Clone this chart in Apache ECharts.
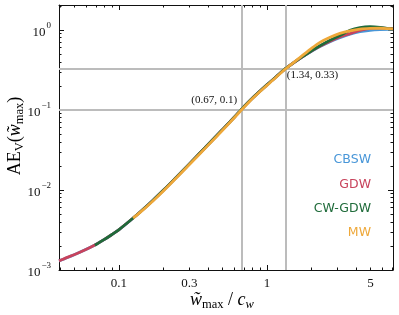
<!DOCTYPE html>
<html><head><meta charset="utf-8">
<script src="https://cdn.jsdelivr.net/npm/echarts@6/dist/echarts.min.js"></script>
<style>html,body{margin:0;padding:0;background:#fff}#c{width:399px;height:315px}</style>
</head><body><div id="c"></div>
<script>
// ---- data ----
const xTickLabels = [0.1, 0.3, 1, 5];
const yTickLabels = [0.001, 0.01, 0.1, 1];
const refX = [0.67, 1.34];
const refY = [0.1, 0.33];
const xRange = [0.0395, 7.1];
const yRange = [0.001, 2.05];
const seriesNames = ['CBSW', 'GDW', 'CW-GDW', 'MW'];
const seriesColors = ['#4896d8', '#c8435c', '#1f6b3a', '#eea83a'];

const cbsw = [[0.0395,0.00130],[0.05,0.00155],[0.07,0.00208],[0.10,0.00318],[0.14,0.00535],[0.20,0.0099],[0.30,0.0212],[0.40,0.0368],[0.50,0.0565],[0.60,0.0805],[0.67,0.101],[0.80,0.141],[1.00,0.206],[1.15,0.258],[1.34,0.330],[1.67,0.440],[2.0,0.540],[2.28,0.620],[2.67,0.715],[3.11,0.800],[3.64,0.884],[4.25,0.952],[4.97,0.990],[5.8,1.010],[6.78,1.020],[7.1,1.020]];
const gdw = [[0.0395,0.00130],[0.045,0.00144],[0.05,0.00155],[0.06,0.00180],[0.07,0.00208],[0.08,0.00241],[0.09,0.00278],[0.10,0.00318],[0.12,0.00418],[0.14,0.00535],[0.17,0.0074],[0.20,0.0099],[0.25,0.0150],[0.30,0.0212],[0.40,0.0368],[0.50,0.0565],[0.60,0.0805],[0.67,0.101],[0.80,0.141],[1.00,0.206],[1.15,0.258],[1.34,0.330],[1.67,0.440],[2.0,0.545],[2.28,0.625],[2.67,0.725],[3.11,0.820],[3.64,0.900],[4.25,0.990],[4.97,1.050],[5.8,1.060],[6.78,1.040],[7.1,1.035]];
const cwgdw = [[0.069,0.00204],[0.08,0.00241],[0.09,0.00278],[0.10,0.00318],[0.12,0.00418],[0.14,0.00535],[0.17,0.0074],[0.20,0.0099],[0.25,0.0150],[0.30,0.0212],[0.40,0.0368],[0.50,0.0565],[0.60,0.0805],[0.67,0.101],[0.80,0.141],[1.00,0.206],[1.15,0.258],[1.34,0.330],[1.67,0.442],[2.0,0.548],[2.28,0.635],[2.67,0.745],[3.11,0.850],[3.64,0.990],[4.25,1.070],[4.97,1.100],[5.8,1.080],[6.78,1.035],[7.1,1.030]];
const mw = [[0.125,0.00444],[0.14,0.00528],[0.17,0.0073],[0.20,0.0097],[0.25,0.0147],[0.30,0.0208],[0.40,0.0361],[0.50,0.0555],[0.60,0.0792],[0.67,0.0990],[0.80,0.139],[1.00,0.203],[1.15,0.255],[1.34,0.327],[1.67,0.451],[2.0,0.589],[2.28,0.700],[2.67,0.810],[3.11,0.905],[3.64,0.975],[4.25,1.025],[4.97,1.045],[5.8,1.050],[6.78,1.035],[7.1,1.030]];
const seriesData = [cbsw, gdw, cwgdw, mw];

// ---- helpers ----
const L = Math.log10;
function minorTicks(lo, hi) {
  const out = [];
  for (let k = -4; k <= 2; k++) for (let m = 2; m <= 9; m++) {
    const v = m * Math.pow(10, k);
    if (v >= lo && v <= hi) out.push(L(v));
  }
  return out;
}
function majorTicks(lo, hi) {
  const out = [];
  for (let k = -4; k <= 2; k++) { const v = Math.pow(10, k); if (v >= lo && v <= hi) out.push(k); }
  return out;
}
const serif = '"Liberation Serif", "DejaVu Serif", serif';
const black = '#111';

function xAx(pos, major, label) {
  return {
    type: 'value', position: pos, min: L(xRange[0]), max: L(xRange[1]),
    axisLine: { show: major, onZero: false, lineStyle: { color: black, width: 1 } },
    axisTick: { show: true, inside: true, length: major ? 5 : 2.5, lineStyle: { color: black, width: 1 },
      customValues: major ? majorTicks(xRange[0], xRange[1]) : minorTicks(xRange[0], xRange[1]) },
    axisLabel: { show: label, customValues: xTickLabels.map(L), margin: 7,
      fontFamily: serif, fontSize: 13, color: black,
      formatter: v => String(Math.round(Math.pow(10, v) * 1000) / 1000) },
    splitLine: { show: false }
  };
}
function yAx(pos, major, label) {
  return {
    type: 'value', position: pos, min: L(yRange[0]), max: L(yRange[1]),
    axisLine: { show: major, onZero: false, lineStyle: { color: black, width: 1 } },
    axisTick: { show: true, inside: true, length: major ? 5 : 2.5, lineStyle: { color: black, width: 1 },
      customValues: major ? majorTicks(yRange[0], yRange[1]) : minorTicks(yRange[0], yRange[1]) },
    axisLabel: { show: label, customValues: yTickLabels.map(L), margin: 8,
      formatter: v => { const e = Math.round(v); return '{b|10}{s|' + (e < 0 ? '\u2212' + (-e) : e) + '}'; },
      rich: {
        b: { fontFamily: serif, fontSize: 13, color: black, lineHeight: 18, verticalAlign: 'bottom' },
        s: { fontFamily: serif, fontSize: 9, color: black, lineHeight: 18, verticalAlign: 'top', padding: [0, 0, 0, 1] }
      } },
    splitLine: { show: false }
  };
}

const series = seriesNames.map((n, i) => ({
  name: n, type: 'line', xAxisIndex: 0, yAxisIndex: 0,
  data: seriesData[i].map(p => [L(p[0]), L(p[1])]),
  showSymbol: false, symbol: 'none', smooth: 0.3, z: 3 + i,
  lineStyle: { color: seriesColors[i], width: 2.8 }, itemStyle: { color: seriesColors[i] }
}));
series.unshift({
  name: 'ref', type: 'line', data: [], z: 1, xAxisIndex: 0, yAxisIndex: 0, silent: true,
  markLine: {
    silent: true, symbol: 'none', animation: false,
    lineStyle: { color: '#bcbcbc', width: 2, type: 'solid' }, label: { show: false },
    data: refX.map(v => ({ xAxis: L(v) })).concat(refY.map(v => ({ yAxis: L(v) })))
  },
  markPoint: {
    symbol: 'circle', symbolSize: 0, silent: true, animation: false,
    data: [
      { coord: [L(refX[0]), L(refY[0])], label: { show: true, formatter: '(' + refX[0] + ', ' + refY[0] + ')',
        position: [-4, -10], align: 'right', verticalAlign: 'middle', fontFamily: serif, fontSize: 11, color: black } },
      { coord: [L(refX[1]), L(refY[1])], label: { show: true, formatter: '(' + refX[1] + ', ' + refY[1] + ')',
        position: [1, 7], align: 'left', verticalAlign: 'middle', fontFamily: serif, fontSize: 11, color: black } }
    ]
  }
});

const legendY = [160, 185, 209, 233];
const graphics = seriesNames.map((n, i) => ({
  type: 'text', x: 371, y: legendY[i],
  style: { text: n, fill: seriesColors[i], font: '12.5px "DejaVu Sans"', align: 'right', verticalAlign: 'middle' }
}));
const richTitle = {
  i: { fontFamily: serif, fontStyle: 'italic', fontSize: 18, color: black, lineHeight: 22, verticalAlign: 'middle' },
  r: { fontFamily: serif, fontSize: 18, color: black, lineHeight: 22, verticalAlign: 'middle' },
  sb: { fontFamily: serif, fontSize: 12.5, color: black, lineHeight: 14, verticalAlign: 'bottom' },
  si: { fontFamily: serif, fontStyle: 'italic', fontSize: 12.5, color: black, lineHeight: 14, verticalAlign: 'bottom' }
};
graphics.push({
  type: 'text', x: 222, y: 300,
  style: { text: '{i|w\u0303}{sb|max}{r| / }{i|c}{si|w}', rich: richTitle, align: 'center', verticalAlign: 'middle' }
});
graphics.push({
  type: 'text', x: 15, y: 136, rotation: Math.PI / 2,
  style: { text: '{r|AE}{sb|V}{r|(}{i|w\u0303}{sb|max}{r|)}', rich: richTitle, align: 'center', verticalAlign: 'middle' }
});

const chart = echarts.init(document.getElementById('c'), null, { renderer: 'canvas' });
chart.setOption({
  animation: false,
  backgroundColor: '#fff',
  grid: { left: 59, right: 6, top: 5, bottom: 45, containLabel: false },
  xAxis: [xAx('bottom', true, true), xAx('bottom', false, false), xAx('top', true, false), xAx('top', false, false)],
  yAxis: [yAx('left', true, true), yAx('left', false, false), yAx('right', true, false), yAx('right', false, false)],
  series: series,
  graphic: graphics
});
</script></body></html>
